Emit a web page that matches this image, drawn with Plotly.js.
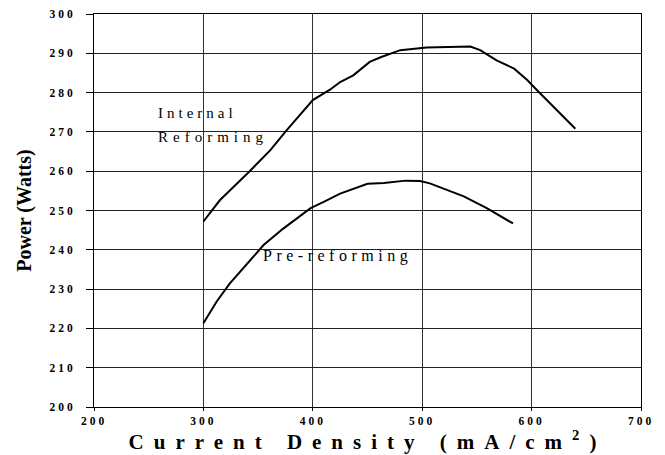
<!DOCTYPE html>
<html>
<head>
<meta charset="utf-8">
<script src="https://cdn.plot.ly/plotly-3.0.1.min.js"></script>
<style>html,body{margin:0;padding:0;background:#fff;}</style>
</head>
<body>
<div id="chart" style="width:665px;height:455px;"></div>
<script>
// Internal reforming curve
const internalX = [300, 315, 343, 361, 376, 400, 416, 425, 437, 452, 462, 480, 504, 544, 553, 568, 584, 596, 605, 620, 640];
const internalY = [247.2, 252.6, 260.2, 265.3, 270.4, 278.1, 280.8, 282.7, 284.4, 287.8, 289.0, 290.8, 291.5, 291.7, 290.8, 288.2, 286.1, 283.2, 280.6, 276.4, 270.8];
// Pre-reforming curve
const preX = [300, 312, 324, 340, 355, 373, 398, 410, 425, 450, 465, 485, 498, 507, 523, 538, 559, 583];
const preY = [221.3, 226.8, 231.4, 236.5, 241.2, 245.4, 250.6, 252.2, 254.3, 256.8, 257.0, 257.6, 257.5, 256.9, 255.2, 253.6, 250.6, 246.7];

const xTicks = [200, 300, 400, 500, 600, 700];
const yTicks = [200, 210, 220, 230, 240, 250, 260, 270, 280, 290, 300];

const serif = "Liberation Serif, Times New Roman, serif";
const sp = (t, n) => '<span style="letter-spacing:' + n + 'px">' + t + '</span>';

const traces = [
  {x: internalX, y: internalY, mode: 'lines', line: {color: '#000', width: 2}, hoverinfo: 'none'},
  {x: preX, y: preY, mode: 'lines', line: {color: '#000', width: 2}, hoverinfo: 'none'}
];

const layout = {
  width: 665, height: 455,
  margin: {l: 94, r: 24, t: 14, b: 48},
  paper_bgcolor: '#fff', plot_bgcolor: '#fff',
  showlegend: false,
  font: {family: serif, color: '#000'},
  xaxis: {
    range: [200, 700], tickvals: xTicks, ticktext: xTicks.map(v => sp(String(v), 3)),
    tickfont: {family: serif, size: 11.5, weight: 'bold', color: '#000'},
    showgrid: true, gridcolor: '#333', gridwidth: 1, zeroline: false,
    showline: true, linecolor: '#000', linewidth: 1, mirror: true,
    ticks: 'outside', ticklen: 3, tickcolor: '#000',
    title: {text: sp('Current Density (mA/cm<sup>2</sup>)', 10), font: {family: serif, size: 21, weight: 'bold', color: '#000'}, standoff: 4}
  },
  yaxis: {
    range: [200, 300], tickvals: yTicks, ticktext: yTicks.map(v => sp(String(v), 3)),
    tickfont: {family: serif, size: 11.5, weight: 'bold', color: '#000'},
    showgrid: true, gridcolor: '#222', gridwidth: 1, zeroline: false,
    showline: true, linecolor: '#000', linewidth: 1, mirror: true,
    ticks: 'outside', ticklen: 7, tickcolor: '#000', ticklabelstandoff: 8,
    title: {text: 'Power (Watts)', font: {family: serif, size: 20, weight: 'bold', color: '#000'}, standoff: 12}
  },
  annotations: [
    {x: 0.113, y: 0.748, xref: 'paper', yref: 'paper', xanchor: 'left', yanchor: 'middle', showarrow: false,
     text: sp('Internal', 4), font: {family: serif, size: 15, color: '#000'}},
    {x: 0.113, y: 0.687, xref: 'paper', yref: 'paper', xanchor: 'left', yanchor: 'middle', showarrow: false,
     text: sp('Reforming', 5), font: {family: serif, size: 15, color: '#000'}},
    {x: 0.305, y: 0.384, xref: 'paper', yref: 'paper', xanchor: 'left', yanchor: 'middle', showarrow: false,
     text: sp('Pre-reforming', 4.5), font: {family: serif, size: 16, color: '#000'}}
  ]
};

Plotly.newPlot('chart', traces, layout, {displayModeBar: false, staticPlot: true});
</script>
</body>
</html>
